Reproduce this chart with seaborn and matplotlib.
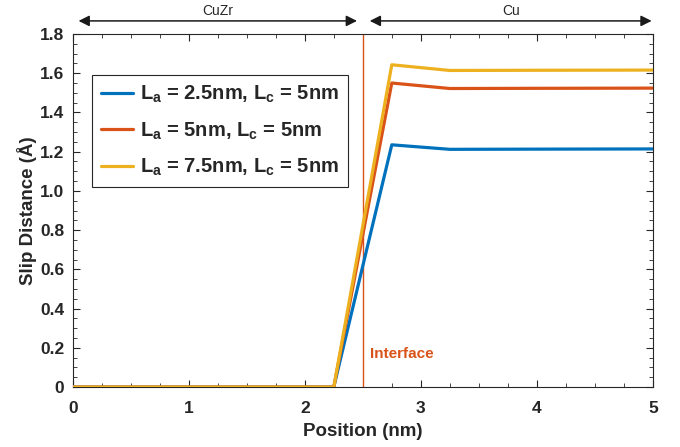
import pandas as pd
import seaborn as sns
import matplotlib.pyplot as plt
import matplotlib.ticker as tkr

# ------------------ DATA ------------------ #
position = [0.0, 2.25, 2.75, 3.25, 4.0, 5.0]
slip_a25 = [0.0, 0.0, 1.235, 1.212, 1.213, 1.214]
slip_a50 = [0.0, 0.0, 1.550, 1.522, 1.523, 1.524]
slip_a75 = [0.0, 0.0, 1.643, 1.614, 1.615, 1.616]
labels = [r'L$_\mathbf{a}$ = 2.5nm, L$_\mathbf{c}$ = 5nm',
          r'L$_\mathbf{a}$ = 5nm, L$_\mathbf{c}$ = 5nm',
          r'L$_\mathbf{a}$ = 7.5nm, L$_\mathbf{c}$ = 5nm']
colors = ['#0072BD', '#D95319', '#EDB120']
interface_x = 2.5
regions = ['CuZr', 'Cu']
region_spans = [(0.05, 2.45), (2.56, 4.99)]

df = pd.concat([
    pd.DataFrame({'Position': position, 'Slip': s, 'Legend': lab})
    for s, lab in zip([slip_a25, slip_a50, slip_a75], labels)
], ignore_index=True)

# ------------------ STYLE ------------------ #
sns.set_style('ticks')
plt.rcParams['font.family'] = ['Liberation Sans', 'DejaVu Sans']
plt.rcParams['mathtext.fontset'] = 'custom'
plt.rcParams['mathtext.rm'] = 'Liberation Sans'
plt.rcParams['mathtext.bf'] = 'Liberation Sans:bold'

fig = plt.figure(figsize=(6.8, 4.47), dpi=100)
ax = fig.add_axes([0.107, 0.134, 0.853, 0.790])

sns.lineplot(ax=ax, data=df, x='Position', y='Slip', hue='Legend',
             palette=colors, linewidth=2.3, zorder=3)

ax.axvline(interface_x, color='#D95319', linewidth=1.0, zorder=2)
ax.text(interface_x + 0.06, 0.17, 'Interface', color='#D95319',
        fontsize=11, fontweight='bold', va='center', ha='left')

ax.set_xlim(0, 5)
ax.set_ylim(0, 1.8)
ax.xaxis.set_major_locator(tkr.MultipleLocator(1))
ax.xaxis.set_minor_locator(tkr.MultipleLocator(0.25))
ax.yaxis.set_major_locator(tkr.MultipleLocator(0.2))
ax.yaxis.set_minor_locator(tkr.MultipleLocator(0.05))
ax.yaxis.set_major_formatter(tkr.FuncFormatter(lambda y, p: '0' if abs(y) < 1e-9 else f'{y:.1f}'))
ax.xaxis.set_major_formatter(tkr.FuncFormatter(lambda x, p: f'{x:.0f}'))
ax.tick_params(which='both', direction='in', top=True, right=True, color='#262626')
ax.tick_params(which='major', length=5, width=0.8, labelsize=12.5)
ax.tick_params(axis='x', which='major', pad=10)
ax.tick_params(axis='y', which='major', pad=6)
ax.tick_params(which='minor', length=3, width=0.6)
for lbl in ax.get_xticklabels() + ax.get_yticklabels():
    lbl.set_fontweight('bold')
    lbl.set_color('#262626')
for spine in ax.spines.values():
    spine.set_visible(True)
    spine.set_color('#262626')
    spine.set_linewidth(0.8)

ax.set_xlabel('Position (nm)', fontsize=13.5, fontweight='bold', color='#262626', labelpad=5)
ax.set_ylabel('Slip Distance (Å)', fontsize=13.5, fontweight='bold', color='#262626', labelpad=2)

leg = ax.legend(loc='upper left', bbox_to_anchor=(0.033, 0.884), borderaxespad=0,
                fancybox=False, edgecolor='#262626', framealpha=1,
                handlelength=1.6, handletextpad=0.35, labelspacing=0.75,
                borderpad=0.45,
                prop={'weight': 'bold', 'size': 14.5})
leg.get_frame().set_linewidth(0.8)
for line in leg.get_lines():
    line.set_linewidth(2.3)

# region arrows above the axes
for name, (x0, x1) in zip(regions, region_spans):
    ax.annotate('', xy=(x0, 1.037), xytext=(x1, 1.037),
                xycoords=('data', 'axes fraction'), textcoords=('data', 'axes fraction'),
                arrowprops=dict(arrowstyle='<|-|>', color='#1a1a1a', lw=1.1,
                                mutation_scale=16, shrinkA=0, shrinkB=0),
                annotation_clip=False)
    ax.text((x0 + x1) / 2, 1.046, name, transform=ax.get_xaxis_transform(),
            ha='center', va='bottom', fontsize=10, color='#262626')

fig.savefig('out.png', dpi=100)
